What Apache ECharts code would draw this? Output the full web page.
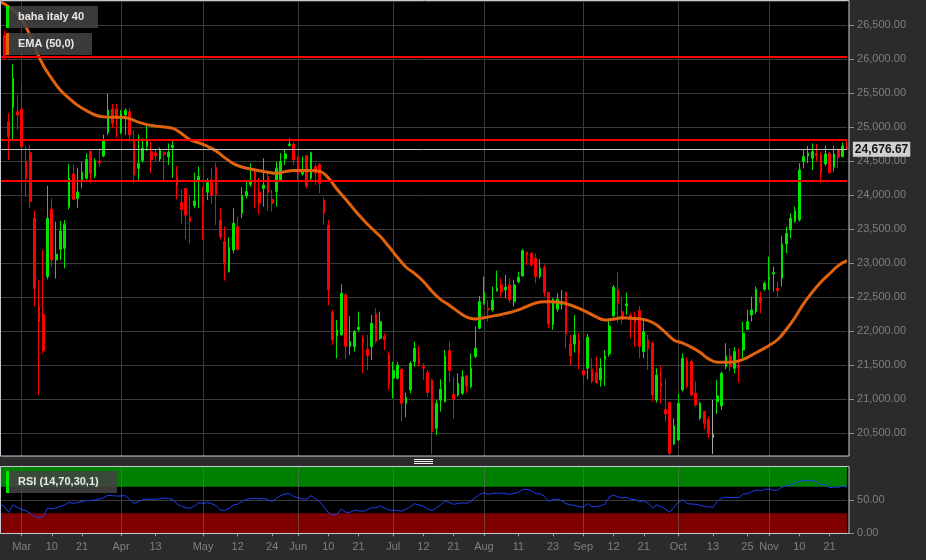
<!DOCTYPE html>
<html><head><meta charset="utf-8">
<script src="https://cdn.jsdelivr.net/npm/echarts@6/dist/echarts.min.js"></script>
<style>html,body{margin:0;padding:0;background:#2b2b2b;}#c{width:926px;height:560px;}</style>
</head><body><div id="c"></div>
<script>
const dates = [
'2022-02-22','2022-02-23','2022-02-24','2022-02-25','2022-02-28',
'2022-03-01','2022-03-02','2022-03-03','2022-03-04','2022-03-07','2022-03-08','2022-03-09','2022-03-10','2022-03-11','2022-03-14','2022-03-15','2022-03-16','2022-03-17','2022-03-18','2022-03-21','2022-03-22','2022-03-23','2022-03-24','2022-03-25','2022-03-28','2022-03-29','2022-03-30','2022-03-31',
'2022-04-01','2022-04-04','2022-04-05','2022-04-06','2022-04-07','2022-04-08','2022-04-11','2022-04-12','2022-04-13','2022-04-14','2022-04-19','2022-04-20','2022-04-21','2022-04-22','2022-04-25','2022-04-26','2022-04-27','2022-04-28','2022-04-29',
'2022-05-02','2022-05-03','2022-05-04','2022-05-05','2022-05-06','2022-05-09','2022-05-10','2022-05-11','2022-05-12','2022-05-13','2022-05-16','2022-05-17','2022-05-18','2022-05-19','2022-05-20','2022-05-23','2022-05-24','2022-05-25','2022-05-26','2022-05-27','2022-05-30','2022-05-31',
'2022-06-01','2022-06-02','2022-06-03','2022-06-06','2022-06-07','2022-06-08','2022-06-09','2022-06-10','2022-06-13','2022-06-14','2022-06-15','2022-06-16','2022-06-17','2022-06-20','2022-06-21','2022-06-22','2022-06-23','2022-06-24','2022-06-27','2022-06-28','2022-06-29','2022-06-30',
'2022-07-01','2022-07-04','2022-07-05','2022-07-06','2022-07-07','2022-07-08','2022-07-11','2022-07-12','2022-07-13','2022-07-14','2022-07-15','2022-07-18','2022-07-19','2022-07-20','2022-07-21','2022-07-22','2022-07-25','2022-07-26','2022-07-27','2022-07-28','2022-07-29',
'2022-08-01','2022-08-02','2022-08-03','2022-08-04','2022-08-05','2022-08-08','2022-08-09','2022-08-10','2022-08-11','2022-08-12','2022-08-15','2022-08-16','2022-08-17','2022-08-18','2022-08-19','2022-08-22','2022-08-23','2022-08-24','2022-08-25','2022-08-26','2022-08-29','2022-08-30','2022-08-31',
'2022-09-01','2022-09-02','2022-09-05','2022-09-06','2022-09-07','2022-09-08','2022-09-09','2022-09-12','2022-09-13','2022-09-14','2022-09-15','2022-09-16','2022-09-19','2022-09-20','2022-09-21','2022-09-22','2022-09-23','2022-09-26','2022-09-27','2022-09-28','2022-09-29','2022-09-30',
'2022-10-03','2022-10-04','2022-10-05','2022-10-06','2022-10-07','2022-10-10','2022-10-11','2022-10-12','2022-10-13','2022-10-14','2022-10-17','2022-10-18','2022-10-19','2022-10-20','2022-10-21','2022-10-24','2022-10-25','2022-10-26','2022-10-27','2022-10-28','2022-10-31',
'2022-11-01','2022-11-02','2022-11-03','2022-11-04','2022-11-07','2022-11-08','2022-11-09','2022-11-10','2022-11-11','2022-11-14','2022-11-15','2022-11-16','2022-11-17','2022-11-18','2022-11-21','2022-11-22','2022-11-23','2022-11-24','2022-11-25'
];

const open = [
25328,26350,25083,25294,25230,25265,24495,24627,23662,22363,
22250,22804,23794,23049,23206,23221,23824,24314,23951,24225,
24250,24642,24284,24500,24578,24922,25270,25270,24926,25181,
25230,24814,24397,24510,24716,24642,24620,24534,24632,24564,
24706,24275,23892,24098,23681,23848,24225,23980,24044,24226,
24412,23637,23319,22877,23196,23539,23735,23990,24162,24348,
24044,24100,24275,23941,24054,24225,24539,24730,24755,24559,
24314,24583,24250,24422,24456,23931,23564,22275,21931,21946,
22534,21775,21775,22029,21897,21735,21775,22255,21897,21922,
21662,21309,21309,21441,20941,21137,21554,21603,21480,21392,
21284,20573,20990,20965,21716,21073,21064,21088,21343,21186,
21627,22044,22412,22338,22314,22593,22681,22608,22681,22436,
22730,22814,23157,23147,23073,22804,22941,22569,22098,22324,
22397,22569,21814,21814,21872,21422,21456,21441,21392,21284,
21588,21667,22225,22608,22289,22373,22240,22200,22304,21701,
21872,21823,20990,21245,20853,20951,20343,20402,21137,21568,
21554,21088,20720,20818,20706,20485,20965,20902,21480,21637,
21456,21490,21725,22029,22240,22289,22500,22618,22764,22843,
22632,22779,23284,23490,23613,23637,24495,24578,24544,24618,
24593,24461,24618,24412,24676,24569,24716
];
const close = [
26211,26050,24863,25721,25181,24716,24250,23907,22632,22142,
21716,23662,23049,23132,23475,23574,24250,23941,24049,24338,
24529,24324,24510,24480,24799,25255,25059,25132,25206,25250,
24887,24299,24471,24691,24804,24520,24580,24662,24603,24632,
24736,24137,23789,23706,23618,23917,24275,23882,24186,24005,
24005,23392,22990,23235,23588,23206,24000,24054,24201,24176,
23887,24150,24039,23882,24397,24495,24608,24755,24520,24314,
24338,24137,24627,24324,24176,23735,22608,21873,22020,22559,
21775,21848,21995,22059,21824,21637,22118,21848,22142,21873,
21235,21422,21505,20941,21029,21529,21750,21529,21456,21100,
20524,20941,21147,21637,21422,21000,21235,21333,21196,21456,
21750,22436,22569,22314,22461,22632,22583,22647,22461,22681,
22794,23186,23122,22975,22804,22926,22569,22108,22471,22471,
22412,21961,21637,21946,21667,21358,21912,21260,21245,21456,
21637,22078,22647,22412,22176,22402,22180,22118,21774,21995,
21750,21064,21358,21186,20784,20206,20608,20941,21603,21186,
21064,20917,20941,20647,20500,20441,21049,21382,21637,21480,
21701,21470,21970,22142,22314,22617,22421,22706,22794,22862,
22598,23284,23441,23662,23770,24373,24569,24618,24642,24583,
24324,24608,24333,24608,24559,24725,24676.67
];
const low = [
25300,25990,24520,24814,24961,24029,23980,23809,22363,21064,
21676,22765,22951,22775,23049,22926,23794,23931,23809,24103,
24230,24176,24250,24421,24559,24887,24985,24848,24900,24887,
24789,24176,24225,24480,24650,24324,24500,24500,24191,24446,
24255,23941,23583,23353,23294,23809,23809,23343,23931,23872,
23564,23353,22745,22863,23147,23180,23662,23950,24127,23809,
23721,23833,23769,23760,23833,24200,24446,24716,24446,24225,
24289,24103,24225,24152,24029,23564,22387,21799,21603,21946,
21588,21652,21701,21995,21382,21431,21578,21824,21873,21725,
21137,21015,21289,20672,20735,21088,21480,21480,21284,21039,
20196,20475,20818,20951,21250,20720,21039,21064,21088,21162,
21603,22029,22387,22142,22289,22583,22500,22485,22422,22363,
22706,22804,22975,22951,22706,22779,22510,22044,22020,22289,
22324,21750,21505,21686,21441,21225,21294,21235,21230,21186,
21196,21627,22215,22127,22108,22240,21897,21774,21603,21603,
21431,20965,20951,20941,20671,20181,20328,20392,21113,21162,
21039,20892,20696,20559,20426,20196,20784,20843,21441,21407,
21382,21245,21588,22020,22142,22255,22265,22598,22608,22583,
22500,22657,23147,23368,23598,23613,24397,24471,24373,24495,
24176,24431,24314,24348,24397,24559,24667
];
const high = [
26250,26420,25206,25926,25475,25637,24716,24740,23775,22755,
23196,24137,23956,23613,23623,23637,24461,24456,24397,24495,
24618,24657,24544,24691,24892,25495,25343,25343,25255,25280,
25280,24961,24892,24838,25020,24789,24680,24701,24642,24760,
24819,24431,24088,24098,23995,24333,24421,24127,24250,24397,
24480,23809,23539,23382,23809,23686,24118,24201,24470,24397,
24255,24544,24333,24078,24495,24618,24676,24838,24779,24569,
24569,24593,24642,24471,24471,23965,23637,22314,22167,22691,
22569,22225,22020,22289,21946,21946,22240,22338,22289,21971,
21701,21554,21554,21466,21098,21560,21848,21784,21529,21431,
21294,20990,21294,21725,21848,21333,21382,21431,21358,21676,
22069,22520,22804,22461,22657,22892,22779,22828,22779,22755,
22877,23206,23172,23162,23147,23059,22975,22583,22485,22559,
22608,22583,21946,22240,21971,21539,21961,21603,21622,21603,
21725,22191,22681,22877,22510,22569,22265,22289,22372,22167,
21946,21848,21456,21490,21309,20965,20720,21078,21676,21617,
21588,21260,20965,20833,20745,20990,21284,21407,21823,21750,
21765,21750,22142,22314,22510,22657,22583,22730,23098,22951,
22730,23402,23539,23735,23833,24471,24667,24725,24765,24755,
24642,24725,24642,24725,24690,24775,24814
];
const ema50 = [
26848,null,26772,null,26662,null,26478,null,26181,null,
25913,null,25714,null,25546,null,25425,null,25322,null,
25245,null,25181,null,25153,null,25147,null,25147,null,
25127,null,25075,null,25039,null,25017,null,25004,null,
24983,null,24909,null,24816,null,24772,null,24721,null,
24653,null,24554,null,24466,null,24416,null,24386,null,
24360,null,24339,null,24323,null,24348,null,24363,null,
24363,null,24363,null,24351,null,24256,null,24088,null,
23942,null,23789,null,23645,null,23515,null,23397,null,
23246,null,23087,null,22942,null,22848,null,22733,null,
22585,null,22466,null,22384,null,22289,null,22208,null,
22181,null,22200,null,22223,null,22248,null,22277,null,
22314,null,22368,null,22417,null,22436,null,22431,null,
22423,null,22386,null,22337,null,22279,null,22211,null,
22167,null,22179,null,22199,null,22191,null,22184,null,
22157,null,22093,null,21983,null,21869,null,21826,null,
21766,null,21690,null,21595,null,21544,null,21544,null,
21550,null,21587,null,21649,null,21719,null,21791,null,
21879,null,22026,null,22203,null,22408,null,22575,null,
22725,null,22846,null,22966,null,23039
];
const rsi14 = [
43.5,40.5,31.5,42.5,39,36,34,30,25,24,
25,38,36.5,38.5,40.5,42.5,46.5,45,46,47.5,
49.5,49,50,51.5,53.5,57,56.5,56,56,56.5,
51,45,47.5,50.5,51.5,51,51,52,53,52.5,
51,43.5,41,38.5,37.5,41,46,45,46,44.5,
41.5,35,34,37.5,42.5,43.5,48,51,52,52.5,
51.5,52.5,50.5,47.5,53,57,59,59.5,55,53.5,
51.5,51.5,56.5,52,47.5,39.5,31,27.5,28.5,36.5,
31.5,31.5,34.5,34,33,35.5,38.5,38,41,38,
35,34.5,34,33.5,36,40,44.5,42.5,40.5,36.5,
34,38.5,43,48.5,46.5,43.5,45,45.5,45,48,
53.5,58.5,61,58.5,60,60,60.5,59.5,58.5,60,
61.5,66,66,64,59.5,59.5,55.5,48,51,51.5,
49,44.5,42.5,42,40,39.5,44.5,40,40,41.5,
43.5,54.5,57.5,54.5,53.5,54,51,51,47,49,
45,38,42.5,40,36.5,31.5,39,46.5,50.5,44.5,
44,43.5,42,40.5,39.5,39,48,52.5,54.5,53.5,
54,53.5,59,59.5,62.5,65,64,66,66.5,64.5,
65,69.5,71,72.5,74.5,78.5,79.5,79.5,79,77,
73,73.5,68.5,69.5,69,71,69.5
];
const tickDates = ['2022-03-01','2022-03-10','2022-03-21','2022-04-01','2022-04-13','2022-05-02','2022-05-12','2022-05-24','2022-06-01','2022-06-10','2022-06-21','2022-07-01','2022-07-12','2022-07-21','2022-08-01','2022-08-11','2022-08-23','2022-09-01','2022-09-12','2022-09-21','2022-10-03','2022-10-13','2022-10-25','2022-11-01','2022-11-10','2022-11-21'];
const tickTexts = ['Mar','10','21','Apr','13','May','12','24','Jun','10','21','Jul','12','21','Aug','11','23','Sep','12','21','Oct','13','25','Nov','10','21'];
const monthStarts = ['2022-03-01','2022-04-01','2022-05-02','2022-06-01','2022-07-01','2022-08-01','2022-09-01','2022-10-03','2022-11-01'];
const levels = [26035, 24818, 24215];
const lastPrice = 24676.67;
const unchangedDays = ['2022-10-13'];
const rsiBands = [[70, 100], [0, 30]];

const fmt = v => Number(v).toLocaleString('en-US', {minimumFractionDigits: 2, maximumFractionDigits: 2});
const UP = '#00e400', DOWN = '#ff0000', GRAY = '#a8a8a8';
const candles = dates.map((d, i) => {
  const item = {value: [open[i], close[i], low[i], high[i]]};
  if (unchangedDays.includes(d)) item.itemStyle = {color: GRAY, color0: GRAY, borderColor: GRAY, borderColor0: GRAY};
  return item;
});
const FONT = '"Liberation Sans", Arial, sans-serif';
const gridColor = '#3b3b3b';
const frame = '#c6cad6';

const chart = echarts.init(document.getElementById('c'), null, {renderer: 'canvas'});
chart.setOption({
  backgroundColor: '#2b2b2b',
  animation: false,
  textStyle: {fontFamily: FONT},
  grid: [
    {left: -0.34, top: 1, width: 847.2, height: 455},
    {left: -0.34, top: 466.7, width: 847.2, height: 66.6}
  ],
  xAxis: [
    {type: 'category', gridIndex: 0, data: dates, boundaryGap: false,
     axisLine: {show: false}, axisTick: {show: false}, axisLabel: {show: false},
     splitLine: {show: true, interval: (i, v) => monthStarts.includes(v), lineStyle: {color: gridColor, width: 1}}},
    {type: 'category', gridIndex: 1, data: dates, boundaryGap: false, z: 5,
     axisLine: {show: false},
     axisTick: {show: true, interval: (i, v) => tickDates.includes(v), length: 3, lineStyle: {color: '#9a9a9a'}},
     axisLabel: {show: true, interval: (i, v) => tickDates.includes(v), formatter: v => tickTexts[tickDates.indexOf(v)],
                 color: '#7f7f7f', fontSize: 11, margin: 8, fontFamily: FONT},
     splitLine: {show: true, interval: (i, v) => monthStarts.includes(v), lineStyle: {color: 'rgba(110,110,110,0.55)', width: 1}}}
  ],
  yAxis: [
    {type: 'value', gridIndex: 0, position: 'right', offset: 2.2, min: 20166, max: 26857,
     splitNumber: 13, minInterval: 500, maxInterval: 500,
     axisLine: {show: false}, axisTick: {show: true, length: 5, lineStyle: {color: '#8a8a8a'}},
     axisLabel: {color: '#7f7f7f', fontSize: 11, margin: 8, showMinLabel: false, showMaxLabel: false, formatter: fmt, fontFamily: FONT},
     splitLine: {show: true, lineStyle: {color: gridColor, width: 1}}},
    {type: 'value', gridIndex: 1, position: 'right', offset: 2.2, min: 0, max: 100, interval: 50,
     axisLine: {show: false}, axisTick: {show: true, length: 5, lineStyle: {color: '#8a8a8a'}},
     axisLabel: {color: '#7f7f7f', fontSize: 11, margin: 8, showMaxLabel: false, formatter: fmt, fontFamily: FONT},
     splitLine: {show: true, lineStyle: {color: gridColor, width: 1}}}
  ],
  series: [
    {type: 'candlestick', name: 'baha italy 40', xAxisIndex: 0, yAxisIndex: 0, data: candles,
     barWidth: 2.2, clip: false,
     itemStyle: {color: UP, color0: DOWN, borderColor: UP, borderColor0: DOWN, borderWidth: 1},
     markLine: {silent: true, symbol: ['none', 'none'], animation: false,
       data: levels.map(v => ({yAxis: v, lineStyle: {color: '#ff0000', width: 2, type: 'solid'}, label: {show: false}}))
         .concat([{yAxis: lastPrice, lineStyle: {color: '#c4c4c4', width: 1, type: 'solid'},
                   label: {show: true, position: 'end', distance: 6, formatter: () => fmt(lastPrice),
                           color: '#151515', fontWeight: 'bold', fontSize: 12, fontFamily: FONT,
                           backgroundColor: '#d0d0d0', padding: [2, 2, 1, 2]}}])}},
    {type: 'line', name: 'EMA (50,0)', xAxisIndex: 0, yAxisIndex: 0, data: ema50, connectNulls: true, smooth: 0.4,
     showSymbol: false, symbol: 'none', lineStyle: {color: '#e0620c', width: 3}, z: 3},
    {type: 'line', name: 'RSI', xAxisIndex: 1, yAxisIndex: 1, data: rsi14, showSymbol: false, symbol: 'none',
     lineStyle: {color: '#1f3ef0', width: 1}, z: 3,
     markArea: {silent: true, data: [
       [{yAxis: rsiBands[0][0], itemStyle: {color: '#008000', opacity: 1}}, {yAxis: rsiBands[0][1]}],
       [{yAxis: rsiBands[1][0], itemStyle: {color: '#800000', opacity: 1}}, {yAxis: rsiBands[1][1]}]
     ]}}
  ],
  graphic: {elements: [
    {type: 'rect', z: -10, silent: true, shape: {x: 0, y: 0, width: 849, height: 456}, style: {fill: '#000'}},
    {type: 'rect', z: -10, silent: true, shape: {x: 0, y: 466, width: 849, height: 67.5}, style: {fill: '#000'}},
    {type: 'rect', z: 50, silent: true, shape: {x: 0.5, y: 0.5, width: 848.5, height: 455.5}, style: {fill: 'none', stroke: frame, lineWidth: 1}},
    {type: 'rect', z: 50, silent: true, shape: {x: 0.5, y: 466.5, width: 848.5, height: 67}, style: {fill: 'none', stroke: frame, lineWidth: 1}},
    {type: 'line', z: 50, silent: true, shape: {x1: 414, y1: 459.5, x2: 433, y2: 459.5}, style: {stroke: '#f0f0f0', lineWidth: 1}},
    {type: 'line', z: 50, silent: true, shape: {x1: 414, y1: 461.5, x2: 433, y2: 461.5}, style: {stroke: '#f0f0f0', lineWidth: 1}},
    {type: 'line', z: 50, silent: true, shape: {x1: 414, y1: 463.5, x2: 433, y2: 463.5}, style: {stroke: '#f0f0f0', lineWidth: 1}},
    {type: 'rect', z: 100, silent: true, shape: {x: 9, y: 6, width: 89, height: 22}, style: {fill: 'rgba(66,66,66,0.88)'}},
    {type: 'rect', z: 100, silent: true, shape: {x: 6, y: 6, width: 3, height: 22}, style: {fill: UP}},
    {type: 'text', z: 101, silent: true, style: {text: 'baha italy 40', x: 18, y: 17, fill: '#e8e8e8', font: 'bold 11px ' + FONT, verticalAlign: 'middle', textVerticalAlign: 'middle'}},
    {type: 'rect', z: 100, silent: true, shape: {x: 9, y: 33, width: 83, height: 22}, style: {fill: 'rgba(66,66,66,0.88)'}},
    {type: 'rect', z: 100, silent: true, shape: {x: 6, y: 33, width: 3, height: 22}, style: {fill: '#e0620c'}},
    {type: 'text', z: 101, silent: true, style: {text: 'EMA (50,0)', x: 18, y: 44, fill: '#e8e8e8', font: 'bold 11px ' + FONT, verticalAlign: 'middle', textVerticalAlign: 'middle'}},
    {type: 'rect', z: 100, silent: true, shape: {x: 9, y: 471, width: 108, height: 22}, style: {fill: 'rgba(66,66,66,0.88)'}},
    {type: 'rect', z: 100, silent: true, shape: {x: 6, y: 471, width: 3, height: 22}, style: {fill: UP}},
    {type: 'text', z: 101, silent: true, style: {text: 'RSI (14,70,30,1)', x: 18, y: 482, fill: '#e8e8e8', font: 'bold 11px ' + FONT, verticalAlign: 'middle', textVerticalAlign: 'middle'}}
  ]}
});
</script></body></html>
